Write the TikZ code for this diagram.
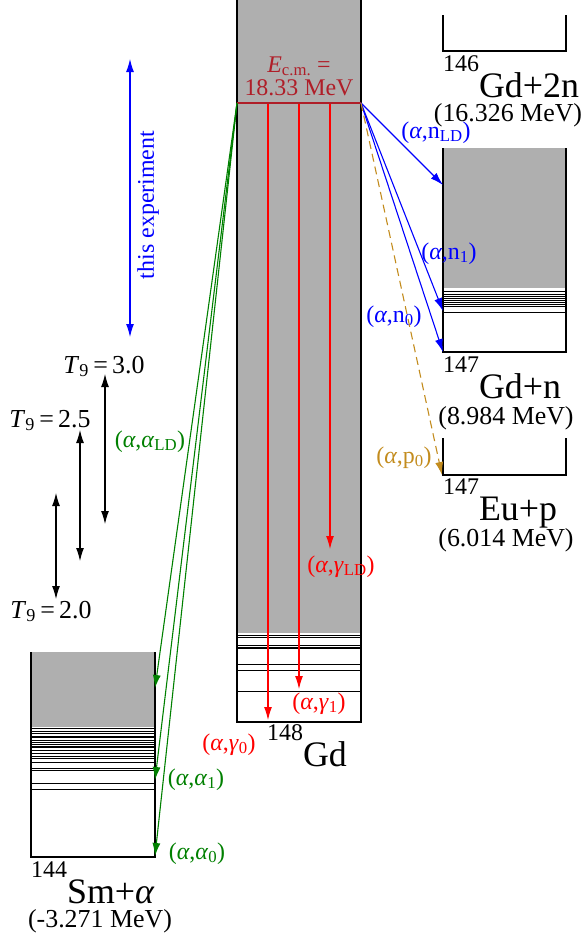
\documentclass[tikz,border=0pt]{standalone}
\usepackage{fontspec}
\setmainfont{Liberation Serif}
\usetikzlibrary{arrows.meta}
\definecolor{levgray}{RGB}{175,175,175}
\definecolor{ecmred}{RGB}{175,30,40}
\definecolor{pgold}{RGB}{195,140,30}
\definecolor{agreen}{RGB}{0,128,0}
\newcommand{\grA}{\textit{α}}
\newcommand{\grG}{\textit{γ}}

\begin{document}
\begin{tikzpicture}[x=1bp, y=-1bp, font=\fontsize{24}{26}\selectfont,
    boxline/.style={line width=1.8bp, black},
    levline/.style={line width=0.8bp, black},
    decay/.style={line width=1.1bp, -{Latex[length=13bp,width=8bp]}},
    twoway/.style={line width=1.1bp, {Latex[length=13bp,width=8bp]}-{Latex[length=13bp,width=8bp]}},
    isolabel/.style={anchor=base west, inner sep=0pt, font=\fontsize{36}{38}\selectfont},
    qlabel/.style={anchor=base, inner sep=0pt},
    qval/.style={anchor=base, inner sep=0pt, font=\fontsize{26}{28}\selectfont}]
    \useasboundingbox (0,0) rectangle (582,937);
    % compound nucleus 148Gd
    \fill[levgray] (237,-2) rectangle (361,633);
    \foreach \y in {635,637,645,647,648,664,670,691} {
        \draw[levline] (237,\y) -- (361,\y);
    }
    \draw[boxline] (237,-2) -- (237,722) -- (361,722) -- (361,-2);
    \node[isolabel] (gdlbl) at (267,766) {\raisebox{26bp}{\fontsize{24}{24}\selectfont 148}Gd};
    % 144Sm + alpha
    \fill[levgray] (31,652) rectangle (155,727);
    \foreach \y in {728,731,733,736,737,740,742,744,746,747,750,753,756,758,762,768,770,783,789} {
        \draw[levline] (31,\y) -- (155,\y);
    }
    \draw[boxline] (31,652) -- (31,857) -- (155,857) -- (155,652);
    \node[isolabel] (smlbl) at (31,903) {\raisebox{26bp}{\fontsize{24}{24}\selectfont 144}Sm+\grA};
    \node[qval] (smq) at (100,927) {(-3.271 MeV)};
    % 147Gd + n
    \fill[levgray] (443,148) rectangle (566,288);
    \foreach \y in {291,294,296,298,300,302,304,306,312} {
        \draw[levline] (443,\y) -- (566,\y);
    }
    \draw[boxline] (443,148) -- (443,352) -- (566,352) -- (566,148);
    \node[isolabel] (gdnlbl) at (443,398) {\raisebox{26bp}{\fontsize{24}{24}\selectfont 147}Gd+n};
    \node[qval] (gdnq) at (506,424) {(8.984 MeV)};
    % 146Gd + 2n and 147Eu + p (thresholds only)
    \draw[boxline] (443,15) -- (443,51) -- (566,51) -- (566,15);
    \node[isolabel] (gd2nlbl) at (443,97) {\raisebox{26bp}{\fontsize{24}{24}\selectfont 146}Gd+2n};
    \node[qval] (gd2nq) at (508,121) {(16.326 MeV)};
    \draw[boxline] (443,438) -- (443,475) -- (566,475) -- (566,438);
    \node[isolabel] (eulbl) at (443,520) {\raisebox{26bp}{\fontsize{24}{24}\selectfont 147}Eu+p};
    \node[qval] (euq) at (506,546) {(6.014 MeV)};
    % entrance energy
    \coordinate (ecmL) at (237,103);
    \coordinate (ecmR) at (361,103);
    \node[qlabel, ecmred] (ecm1) at (299,72) {\textit{E}\textsubscript{c.m.} =};
    \node[qlabel, ecmred] (ecm2) at (299,95) {18.33 MeV};
    % gamma channels
    \foreach \n/\x/\yend in {0/268/720, 1/299/689, LD/330/549} {
        \coordinate (gtop\n) at (\x,103);
        \coordinate (gend\n) at (\x,\yend);
        \draw[decay, red] (gtop\n) -- (gend\n);
    }
    \draw[line width=1.2bp, ecmred] (ecmL) -- (ecmR);
    \node[qlabel, red] (gLD) at (341,572) {(\grA,\grG\textsubscript{LD})};
    \node[qlabel, red] (g1) at (319,709) {(\grA,\grG\textsubscript{1})};
    \node[qlabel, red] (g0) at (229,750) {(\grA,\grG\textsubscript{0})};
    % alpha channels
    \foreach \n/\yend in {LD/688, 1/780, 0/856} {
        \coordinate (aend\n) at (155,\yend);
        \draw[decay, agreen] (ecmL) -- (aend\n);
    }
    \node[qlabel, agreen] (aLD) at (150,447) {(\grA,\grA\textsubscript{LD})};
    \node[qlabel, agreen] (a1) at (196,785) {(\grA,\grA\textsubscript{1})};
    \node[qlabel, agreen] (a0) at (197,859) {(\grA,\grA\textsubscript{0})};
    % neutron channels
    \foreach \n/\yend in {LD/185, 1/311, 0/352} {
        \coordinate (nend\n) at (443,\yend);
        \draw[decay, blue] (ecmR) -- (nend\n);
    }
    \node[qlabel, blue] (nLD) at (436,138) {(\grA,n\textsubscript{LD})};
    \node[qlabel, blue] (n1) at (449,259) {(\grA,n\textsubscript{1})};
    \node[qlabel, blue] (n0) at (394,322) {(\grA,n\textsubscript{0})};
    % proton channel
    \coordinate (pend0) at (442,475);
    \draw[decay, pgold, dash pattern=on 8bp off 5bp] (ecmR) -- (pend0);
    \node[qlabel, pgold] (p0) at (404,463) {(\grA,p\textsubscript{0})};
    % energy window
    \coordinate (expTop) at (130,59);
    \coordinate (expBot) at (130,337);
    \draw[twoway, blue] (expTop) -- (expBot);
    \node[blue, rotate=90, font=\fontsize{24}{26}\selectfont] (explbl) at (148,205) {this experiment};
    % Gamow windows
    \foreach \n/\x/\ya/\yb in {30/105/374/524, 25/80/430/561, 20/56/493/599} {
        \coordinate (wtop\n) at (\x,\ya);
        \coordinate (wbot\n) at (\x,\yb);
        \draw[twoway, black] (wtop\n) -- (wbot\n);
    }
    \node[qval] (t30) at (104,373) {\textit{T}\textsubscript{9}\,=\,3.0};
    \node[qval] (t25) at (50,427) {\textit{T}\textsubscript{9}\,=\,2.5};
    \node[qval] (t20) at (51,618) {\textit{T}\textsubscript{9}\,=\,2.0};
\end{tikzpicture}
\end{document}
